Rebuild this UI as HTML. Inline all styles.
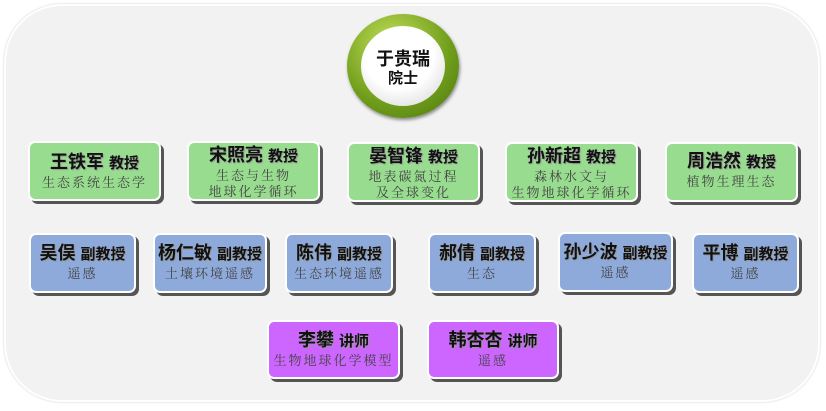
<!DOCTYPE html>
<html><head><meta charset="utf-8"><style>
body{margin:0;width:826px;height:411px;background:#fff;position:relative;overflow:hidden;font-family:"Liberation Sans","Noto Sans CJK SC",sans-serif}
.panel{position:absolute;left:4px;top:4px;width:812px;height:394px;background:#f2f2f2;border-radius:58px;border:2px solid #fff;box-shadow:0 0 2px #ccc}
.b{position:absolute;box-sizing:border-box;border:2px solid #fff;border-radius:7px;text-align:center;box-shadow:3px 3px 0 #555;}
.g{background:#98dd8f}.bl{background:#8eaadb}.p{background:#cc66ff}
.n{font-weight:bold;color:#111;font-size:18px;line-height:21px;white-space:nowrap;text-shadow:1px 1px 1px #999}
.n small{font-size:15px}
.s{color:#444;font-size:13px;line-height:16px;letter-spacing:2px;white-space:nowrap;font-family:"Noto Serif CJK SC","Noto Sans CJK SC",serif}
.circle{position:absolute;left:347px;top:14px;width:112px;height:104px;border-radius:50%;background:radial-gradient(circle at 40% 30%,#c4e05a,#6e9c1a 60%,#4b7410);box-shadow:1px 2px 3px #888}
.inner{position:absolute;left:14px;top:12px;width:84px;height:80px;border-radius:50%;background:radial-gradient(circle at 45% 35%,#fff 50%,#d0d0d0);text-align:center;font-weight:bold;color:#111}
</style></head><body>
<div class="panel"></div>
<div class="circle"><div class="inner"><div style="font-size:18px;margin-top:23px;line-height:21px">于贵瑞</div><div style="font-size:15px;line-height:18px">院士</div></div></div>

<div class="b g" style="left:28px;top:141px;width:133px;height:60px"><div class="n" style="margin-top:9px">王铁军 <small>教授</small></div><div class="s">生态系统生态学</div></div>
<div class="b g" style="left:187px;top:141px;width:133px;height:60px"><div class="n" style="margin-top:2px">宋照亮 <small>教授</small></div><div class="s">生态与生物<br>地球化学循环</div></div>
<div class="b g" style="left:347px;top:142px;width:133px;height:60px"><div class="n" style="margin-top:2px">晏智锋 <small>教授</small></div><div class="s">地表碳氮过程<br>及全球变化</div></div>
<div class="b g" style="left:505px;top:142px;width:133px;height:60px"><div class="n" style="margin-top:2px">孙新超 <small>教授</small></div><div class="s">森林水文与<br>生物地球化学循环</div></div>
<div class="b g" style="left:665px;top:142px;width:133px;height:60px"><div class="n" style="margin-top:7px">周浩然 <small>教授</small></div><div class="s">植物生理生态</div></div>

<div class="b bl" style="left:29px;top:233px;width:107px;height:60px"><div class="n" style="margin-top:8px">吴俣 <small>副教授</small></div><div class="s">遥感</div></div>
<div class="b bl" style="left:153px;top:233px;width:114px;height:60px"><div class="n" style="margin-top:8px">杨仁敏 <small>副教授</small></div><div class="s">土壤环境遥感</div></div>
<div class="b bl" style="left:285px;top:233px;width:108px;height:60px"><div class="n" style="margin-top:8px">陈伟 <small>副教授</small></div><div class="s">生态环境遥感</div></div>
<div class="b bl" style="left:428px;top:233px;width:108px;height:60px"><div class="n" style="margin-top:8px">郝倩 <small>副教授</small></div><div class="s">生态</div></div>
<div class="b bl" style="left:558px;top:232px;width:115px;height:60px"><div class="n" style="margin-top:8px">孙少波 <small>副教授</small></div><div class="s">遥感</div></div>
<div class="b bl" style="left:692px;top:233px;width:107px;height:60px"><div class="n" style="margin-top:8px">平博 <small>副教授</small></div><div class="s">遥感</div></div>

<div class="b p" style="left:267px;top:320px;width:133px;height:59px"><div class="n" style="margin-top:8px">李攀 <small>讲师</small></div><div class="s">生物地球化学模型</div></div>
<div class="b p" style="left:427px;top:320px;width:132px;height:59px"><div class="n" style="margin-top:8px">韩杏杏 <small>讲师</small></div><div class="s">遥感</div></div>
</body></html>
